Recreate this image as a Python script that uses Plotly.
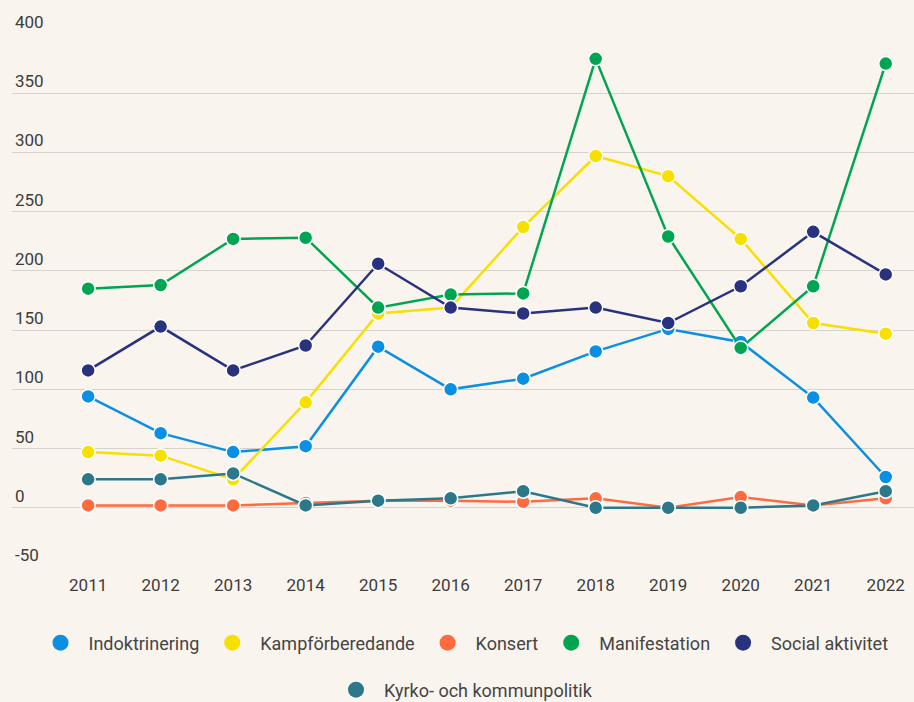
import plotly.graph_objects as go

years = [2011, 2012, 2013, 2014, 2015, 2016, 2017, 2018, 2019, 2020, 2021, 2022]

indoktrinering = [94, 63, 47, 52, 136, 100, 109, 132, 151, 140, 93, 26]
kampforberedande = [47, 44, 24, 89, 164, 169, 237, 297, 280, 227, 156, 147]
konsert = [2, 2, 2, 4, 6, 6, 5, 8, 0, 9, 2, 8]
manifestation = [185, 188, 227, 228, 169, 180, 181, 379, 229, 135, 187, 375]
social_aktivitet = [116, 153, 116, 137, 206, 169, 164, 169, 156, 187, 233, 197]
kyrko = [24, 24, 29, 2, 6, 8, 14, 0, 0, 0, 2, 14]

series_names = ["Indoktrinering", "Kampförberedande", "Konsert", "Manifestation",
                "Social aktivitet", "Kyrko- och kommunpolitik"]
series_values = [indoktrinering, kampforberedande, konsert, manifestation,
                 social_aktivitet, kyrko]
colors = ["#0a8fe2", "#f7e000", "#ff6b3f", "#00a551", "#28327f", "#2b788b"]

y_ticks = [-50, 0, 50, 100, 150, 200, 250, 300, 350, 400]

bg = "#faf4ee"
font_family = "Roboto, Arial, sans-serif"
tick_font = dict(family=font_family, size=17, color="#3c3c3c")

fig = go.Figure()

for name, vals, col in zip(series_names, series_values, colors):
    fig.add_trace(go.Scatter(
        x=years, y=vals, name=name, mode="lines+markers",
        line=dict(color=col, width=2.5),
        marker=dict(color=col, size=14, line=dict(color="white", width=1.5)),
        showlegend=False, hoverinfo="x+y+name",
    ))

for i, (name, col) in enumerate(zip(series_names, colors)):
    fig.add_trace(go.Scatter(
        x=[None], y=[None], name=name, mode="markers",
        marker=dict(color=col, size=16),
        showlegend=True,
        legend="legend" if i < 5 else "legend2",
    ))

fig.update_layout(
    width=914, height=702,
    margin=dict(l=12, r=0, t=34, b=135, autoexpand=False),
    paper_bgcolor=bg, plot_bgcolor=bg,
    font=dict(family=font_family, size=17, color="#444444"),
    xaxis=dict(
        range=[2009.95, 2022.39],
        tickvals=years, ticktext=[str(y) for y in years],
        showgrid=False, showline=False, zeroline=False, ticks="",
        ticklabelstandoff=6, automargin=False,
        tickfont=tick_font,
    ),
    yaxis=dict(
        range=[-50, 400],
        tickvals=y_ticks, ticktext=[str(v) for v in y_ticks],
        showgrid=True, gridcolor="#d6d2cd", gridwidth=1,
        zeroline=False, showline=False, ticks="", automargin=False,
        ticklabelposition="inside top", ticklabeloverflow="allow",
        tickfont=tick_font,
    ),
    legend=dict(
        orientation="h", x=0.5, xanchor="center",
        yref="container", y=1 - 643 / 702, yanchor="middle",
        itemwidth=46,
        font=dict(size=18, color="#444444"), bgcolor="rgba(0,0,0,0)",
    ),
    legend2=dict(
        orientation="h", x=0.5, xanchor="center",
        yref="container", y=1 - 690 / 702, yanchor="middle",
        itemwidth=46,
        font=dict(size=18, color="#444444"), bgcolor="rgba(0,0,0,0)",
    ),
    showlegend=True,
)

fig.write_html(
    "out.html",
    config={"displayModeBar": False},
    post_script="document.body.style.margin='0';document.body.style.padding='0';document.body.style.overflow='hidden';",
)
